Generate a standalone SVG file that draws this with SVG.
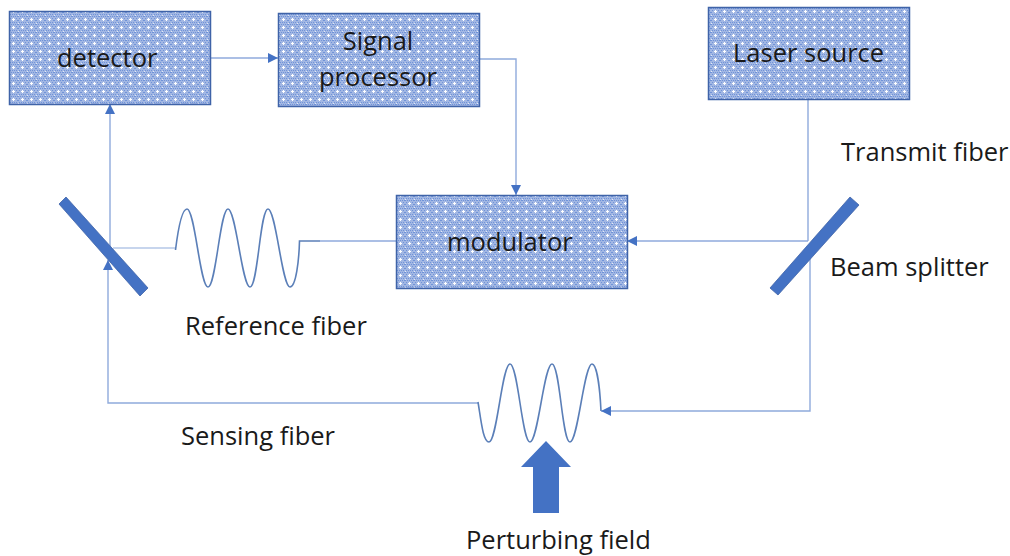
<svg xmlns="http://www.w3.org/2000/svg" width="1010" height="556" viewBox="0 0 1010 556">
<style>
text{font-family:"Open Sans","Noto Sans","Liberation Sans",sans-serif;font-size:25.500px;fill:#1a1a1a}
.box{fill:url(#dots);stroke:#3f63a8;stroke-width:1.5}
.conn{fill:none;stroke:#8faadc;stroke-width:1.4}
.conn2{fill:none;stroke:#b4c7e7;stroke-width:1.6}
.coil{fill:none;stroke:#5b7fb8;stroke-width:1.6}
.solid{fill:#4472c4;stroke:#3f63a8;stroke-width:.8}
</style>
<defs>
<pattern id="dots" width="9" height="8" patternUnits="userSpaceOnUse">
<rect width="9" height="8" fill="#a2b7e3"/>
<path d="M0 0h1v1h-1zM2 0h1v1h-1zM4 0h1v1h-1zM6 0h1v1h-1zM8 0h1v1h-1zM1 2h1v1h-1zM7 2h1v1h-1zM0 4h1v1h-1zM8 4h1v1h-1zM1 6h1v1h-1zM3 6h1v1h-1zM5 6h1v1h-1zM7 6h1v1h-1z" fill="#7093d8"/>
<path d="M4 2h1v1h1v1h-1v1h-1v-1h-1v-1h1z" fill="#fff"/>
<rect x="0" y="7" width="1" height="1" fill="#e4ebf8"/>
</pattern>
<marker id="arrow" markerUnits="userSpaceOnUse" markerWidth="11" markerHeight="11" refX="10" refY="5" orient="auto">
<path d="M0 0L10 5L0 10z" fill="#4472c4"/>
</marker>
</defs>
<g id="connectors">
<path class="conn" marker-end="url(#arrow)" d="M210 58H278"/>
<path class="conn" marker-end="url(#arrow)" d="M479 59H516V195"/>
<path class="conn" d="M808 99V241"/>
<path class="conn" marker-end="url(#arrow)" d="M808 241H627"/>
<path class="conn" marker-end="url(#arrow)" d="M810 258V411H601"/>
<path class="conn" marker-end="url(#arrow)" d="M110 250V104"/>
<path class="conn2" d="M113 248H176"/>
<path class="conn" marker-end="url(#arrow)" d="M478 403H108V260"/>
<path class="conn" d="M320 241H396"/>
</g>
<g id="detector"><rect class="box" x="9.500" y="11.500" width="201" height="93"/><text x="57" y="67">detector</text></g>
<g id="signal-processor"><rect class="box" x="278.500" y="13.500" width="201" height="93"/><text x="378" y="50" text-anchor="middle">Signal</text><text x="378" y="86" text-anchor="middle">processor</text></g>
<g id="laser-source"><rect class="box" x="708.500" y="7.500" width="201" height="92"/><text x="733" y="62">Laser source</text></g>
<g id="modulator"><rect class="box" x="396.500" y="195.500" width="231" height="93"/><text x="447" y="251">modulator</text></g>
<g id="left-mirror"><polygon class="solid" points="59,204 66,197 148,288 140,296"/></g>
<g id="right-mirror"><polygon class="solid" points="850,197 859,205 778,295 770,288"/></g>
<g id="reference-coil"><path class="coil" d="M175.500 250C178 230 182 209 187 209C195 209 200 287 208 287C216 287 220 209 228 209C236 209 242 287 250 287C258 287 260 209 268 209C276 209 282 287 290 287C296 287 299 260 299.500 241H320"/></g>
<g id="sensing-coil"><path class="coil" d="M478 402C481 420 483 442 489 442C497 442 502 364 510 364C518 364 522 442 530 442C538 442 544 364 552 364C560 364 562 442 570 442C578 442 584 364 592 364C597 364 600 390 601 411"/></g>
<g id="perturbing-arrow"><polygon points="546,441 571,467 559,467 559,513 533,513 533,467 521,467" fill="#4472c4"/></g>
<g id="labels">
<text x="841" y="161">Transmit fiber</text>
<text x="830" y="276">Beam splitter</text>
<text x="185" y="335">Reference fiber</text>
<text x="181" y="445">Sensing fiber</text>
<text x="466" y="549">Perturbing field</text>
</g>
</svg>
